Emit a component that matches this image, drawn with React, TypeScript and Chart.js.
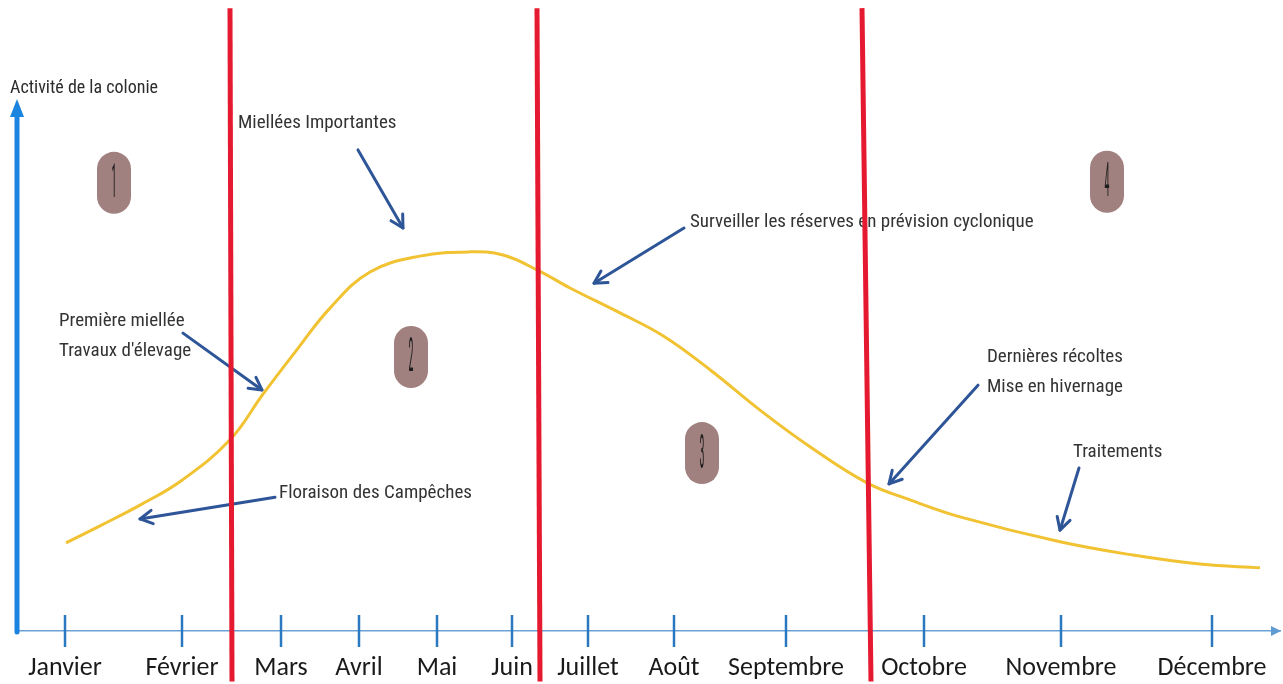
import React, { useEffect, useRef } from "react";
import { Chart, registerables } from "chart.js";

Chart.register(...registerables);

// ---- Data (x in position units along the year axis, y = colony activity 0..100) ----
const monthLabels = ["Janvier", "Février", "Mars", "Avril", "Mai", "Juin", "Juillet", "Août", "Septembre", "Octobre", "Novembre", "Décembre"];
const monthPos = [47, 164, 263, 341, 419, 494, 570, 656, 768, 906, 1043, 1194];

const curveX = [48, 82, 122, 164, 212, 245, 279, 312, 352, 402, 452, 485, 519, 552, 602, 645, 692, 742, 792, 849, 892, 942, 1042, 1115, 1182, 1242];
const curveY = [16.6, 19.8, 23.7, 28.4, 36.0, 44.6, 53.0, 60.8, 67.6, 70.6, 71.4, 70.8, 68.0, 64.6, 59.9, 55.6, 49.2, 41.6, 34.7, 27.9, 24.7, 21.5, 16.8, 14.3, 12.6, 11.9];

// phase boundaries (red lines): x at top, x at bottom
const boundaryTopX = [212, 519, 844];
const boundaryBottomX = [214, 522, 853];
const boundaryTopY = 117.3;
const boundaryBottomY = -9.5;

const phaseNumbers = ["1", "2", "3", "4"];
const phaseX = [96, 393, 684, 1089];
const phaseY = [84.4, 51.6, 33.5, 84.6];

const noteLines = [["Miellées Importantes"], ["Surveiller les réserves en prévision cyclonique"], ["Première miellée", "Travaux d'élevage"], ["Floraison des Campêches"], ["Dernières récoltes", "Mise en hivernage"], ["Traitements"]];
const noteX = [220, 672, 41, 261, 969, 1055];
const noteY = [95.7, 77.0, 58.4, 26.0, 51.6, 33.7];
const arrowFromX = [340, 666, 165, 257, 960, 1061];
const arrowFromY = [90.6, 75.9, 56.1, 25.2, 46.3, 30.7];
const arrowToX = [385, 576, 244, 122, 871, 1042];
const arrowToY = [75.9, 65.5, 45.4, 21.1, 27.7, 19.0];

const yAxisTitle = "Activité de la colonie";

const ANN_FONT = '"Liberation Sans Narrow", "Roboto Condensed", Lato, sans-serif';
const TICK_FONT = 'Carlito, Lato, "Open Sans", sans-serif';

function arrowHead(ctx: CanvasRenderingContext2D, x1: number, y1: number, x2: number, y2: number, len: number, ang: number) {
  const a = Math.atan2(y2 - y1, x2 - x1);
  ctx.beginPath();
  ctx.moveTo(x2 - len * Math.cos(a - ang), y2 - len * Math.sin(a - ang));
  ctx.lineTo(x2, y2);
  ctx.lineTo(x2 - len * Math.cos(a + ang), y2 - len * Math.sin(a + ang));
  ctx.stroke();
}

const decorPlugin = {
  id: "decor",
  beforeDatasetsDraw(chart: any) {
    const ctx: CanvasRenderingContext2D = chart.ctx;
    const xs = chart.scales.x;
    const ys = chart.scales.y;
    const area = chart.chartArea;
    ctx.save();

    // x-axis arrow head
    ctx.fillStyle = "#5f9bd3";
    ctx.beginPath();
    ctx.moveTo(area.right + 1, area.bottom);
    ctx.lineTo(area.right - 9, area.bottom - 5);
    ctx.lineTo(area.right - 9, area.bottom + 5);
    ctx.closePath();
    ctx.fill();

    // tick marks crossing the axis
    ctx.strokeStyle = "#2a78c0";
    ctx.lineWidth = 2.5;
    xs.ticks.forEach((t: any) => {
      const px = Math.round(xs.getPixelForValue(t.value));
      ctx.beginPath();
      ctx.moveTo(px, area.bottom - 16);
      ctx.lineTo(px, area.bottom + 16);
      ctx.stroke();
    });

    // y axis (thick blue arrow)
    const yx = area.left - 1;
    const yTop = ys.getPixelForValue(100);
    ctx.strokeStyle = "#1b83e0";
    ctx.lineWidth = 5;
    ctx.lineCap = "round";
    ctx.beginPath();
    ctx.moveTo(yx, area.bottom + 1);
    ctx.lineTo(yx, yTop + 14);
    ctx.stroke();
    ctx.fillStyle = "#1b83e0";
    ctx.beginPath();
    ctx.moveTo(yx, yTop - 1);
    ctx.lineTo(yx - 7, yTop + 17);
    ctx.lineTo(yx + 7, yTop + 17);
    ctx.closePath();
    ctx.fill();

    // y axis title
    ctx.fillStyle = "#2b2b2b";
    ctx.font = `18px ${ANN_FONT}`;
    ctx.textBaseline = "middle";
    ctx.textAlign = "left";
    ctx.fillText(yAxisTitle, xs.getPixelForValue(-8), ys.getPixelForValue(102.1));

    // notes
    ctx.fillStyle = "#333333";
    ctx.font = `19px ${ANN_FONT}`;
    noteLines.forEach((lines, i) => {
      lines.forEach((ln, j) => {
        const py = ys.getPixelForValue(noteY[i]) + j * 30;
        ctx.fillText(ln, xs.getPixelForValue(noteX[i]), py);
      });
    });

    // arrows
    ctx.strokeStyle = "#2e5597";
    ctx.lineWidth = 3;
    ctx.lineCap = "round";
    ctx.lineJoin = "round";
    arrowFromX.forEach((fx, i) => {
      const x1 = xs.getPixelForValue(fx);
      const y1 = ys.getPixelForValue(arrowFromY[i]);
      const x2 = xs.getPixelForValue(arrowToX[i]);
      const y2 = ys.getPixelForValue(arrowToY[i]);
      ctx.beginPath();
      ctx.moveTo(x1, y1);
      ctx.lineTo(x2, y2);
      ctx.stroke();
      arrowHead(ctx, x1, y1, x2, y2, 14, 0.5);
    });

    // phase badges
    phaseNumbers.forEach((n, i) => {
      const cx = xs.getPixelForValue(phaseX[i]);
      const cy = ys.getPixelForValue(phaseY[i]);
      const w = 34, h = 62;
      ctx.fillStyle = "#a1817f";
      ctx.beginPath();
      ctx.roundRect(cx - w / 2, cy - h / 2, w, h, w / 2);
      ctx.fill();
      ctx.save();
      ctx.translate(cx, cy);
      ctx.scale(0.5, 2.4);
      ctx.fillStyle = "#1e1e1e";
      ctx.font = `20px ${ANN_FONT}`;
      ctx.textAlign = "center";
      ctx.textBaseline = "middle";
      ctx.fillText(n, 0, 1);
      ctx.restore();
    });

    ctx.restore();
  },
};

export default function App() {
  const ref = useRef<HTMLCanvasElement | null>(null);

  useEffect(() => {
    if (!ref.current) return;
    const boundaryDatasets = boundaryTopX.map((tx, i) => ({
      type: "line" as const,
      data: [
        { x: tx, y: boundaryTopY },
        { x: boundaryBottomX[i], y: boundaryBottomY },
      ],
      borderColor: "#e5192f",
      borderWidth: 5,
      pointRadius: 0,
      clip: false as any,
      order: 0,
    }));
    const chart = new Chart(ref.current, {
      type: "line",
      data: {
        datasets: [
          ...boundaryDatasets,
          {
            data: curveX.map((x, i) => ({ x, y: curveY[i] })),
            borderColor: "#f1c232",
            borderWidth: 3,
            pointRadius: 0,
            tension: 0.4,
            order: 1,
          },
        ],
      },
      options: {
        responsive: false,
        animation: false,
        layout: { padding: { left: 18, right: 3, top: 100, bottom: 0 } },
        plugins: { legend: { display: false }, tooltip: { enabled: false } },
        scales: {
          x: {
            type: "linear",
            min: 0,
            max: 1262,
            afterBuildTicks: (scale: any) => {
              scale.ticks = monthPos.map((v) => ({ value: v }));
            },
            afterFit: (scale: any) => {
              scale.height = 53;
              scale.paddingRight = 0;
              scale.paddingLeft = 0;
            },
            ticks: {
              autoSkip: false,
              maxRotation: 0,
              padding: 22,
              color: "#1a1a1a",
              font: { family: TICK_FONT, size: 26 },
              callback: (_v: any, i: number) => monthLabels[i],
            },
            grid: { drawOnChartArea: false, drawTicks: false },
            border: { display: true, color: "#6aa1d6", width: 1.5 },
          },
          y: { display: false, min: 0, max: 100 },
        },
      },
      plugins: [decorPlugin],
    });
    return () => chart.destroy();
  }, []);

  return (
    <div style={{ position: "fixed", left: 0, top: 0, width: 1283, height: 684, background: "#fff" }}>
      <canvas ref={ref} width={1283} height={684} />
    </div>
  );
}
